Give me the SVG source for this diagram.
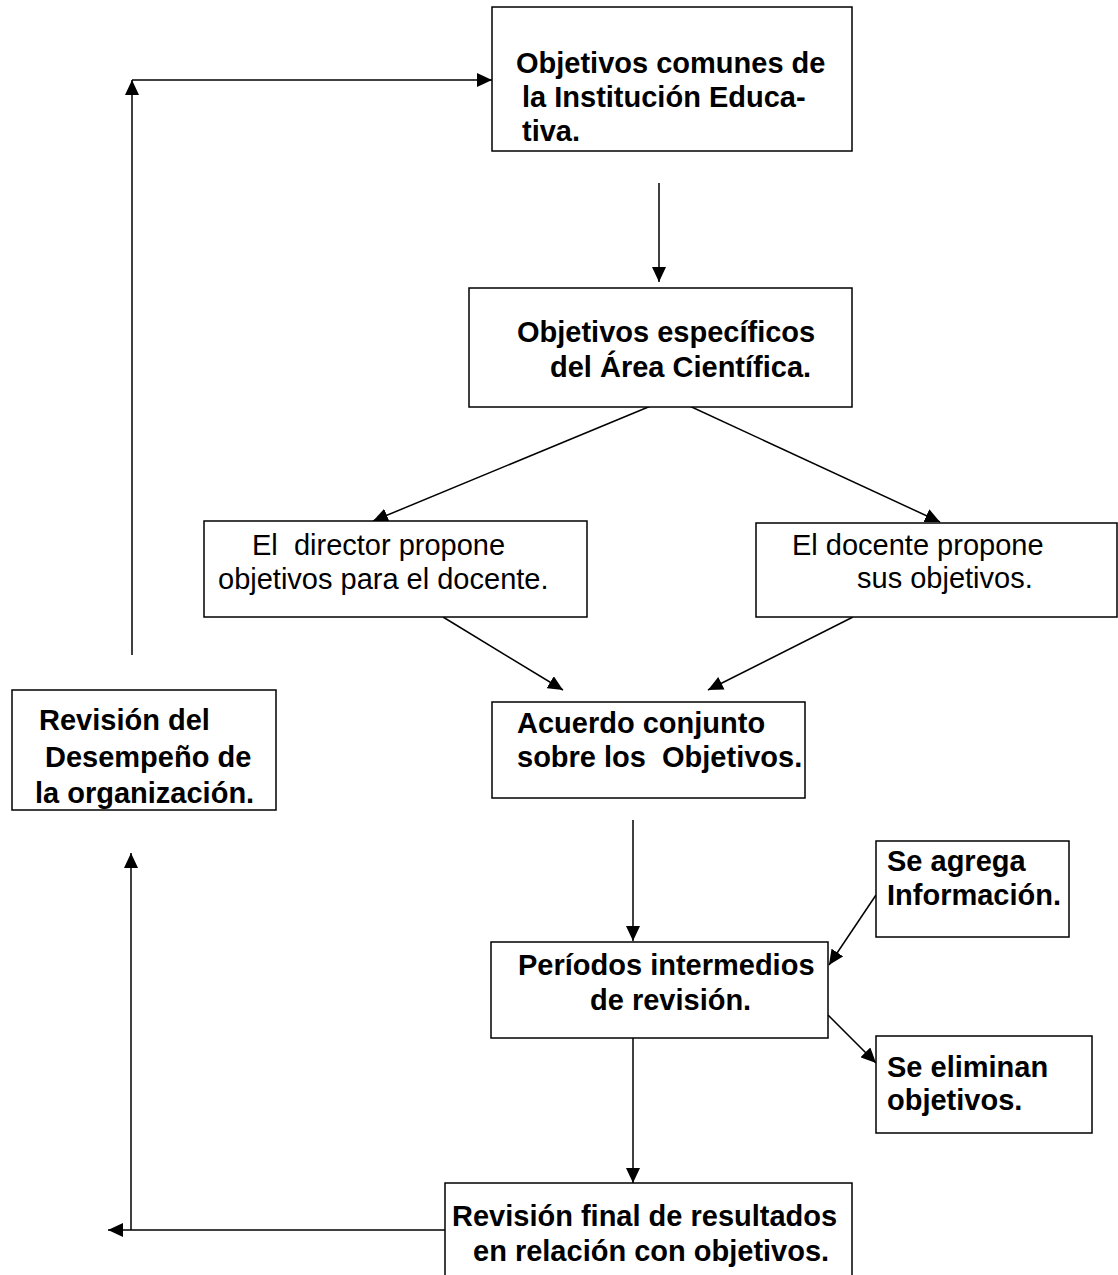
<svg xmlns="http://www.w3.org/2000/svg" width="1118" height="1275" viewBox="0 0 1118 1275">
<style>
.box{fill:#fff;stroke:#000;stroke-width:1.5}
.b{font-family:"Liberation Sans",Arial,sans-serif;font-weight:bold;font-size:29px;fill:#000;white-space:pre}
.r{font-family:"Liberation Sans",Arial,sans-serif;font-size:29px;fill:#000;white-space:pre}
.c{stroke:#000;stroke-width:1.5;fill:none;marker-end:url(#ah)}
</style>
<defs>
<marker id="ah" markerUnits="userSpaceOnUse" markerWidth="16" markerHeight="14" refX="15" refY="7" orient="auto">
<path d="M0,0 L15,7 L0,14 z" fill="#000"/>
</marker>
</defs>
<rect width="1118" height="1275" fill="#fff"/>
<g id="connectors">
<line class="c" x1="659" y1="183" x2="659" y2="282"/>
<line class="c" x1="658" y1="403" x2="373" y2="521"/>
<line class="c" x1="683" y1="403" x2="940" y2="522"/>
<line class="c" x1="443" y1="617" x2="563" y2="690"/>
<line class="c" x1="853" y1="617" x2="708" y2="690"/>
<line class="c" x1="633" y1="820" x2="633" y2="941"/>
<line class="c" x1="876" y1="895" x2="829" y2="965"/>
<line class="c" x1="828" y1="1015" x2="876" y2="1063"/>
<line class="c" x1="633" y1="1038" x2="633" y2="1183"/>
<line class="c" x1="445" y1="1230" x2="108" y2="1230"/>
<line class="c" x1="131" y1="1230" x2="131" y2="853"/>
<line class="c" x1="132" y1="655" x2="132" y2="80"/>
<line class="c" x1="132" y1="80" x2="492" y2="80"/>
</g>
<g id="objetivos-comunes">
<rect class="box" x="492" y="7" width="360" height="144"/>
<text class="b" x="516" y="73">Objetivos comunes de</text>
<text class="b" x="522" y="107">la Institución Educa-</text>
<text class="b" x="522" y="141">tiva.</text>
</g>
<g id="objetivos-especificos">
<rect class="box" x="469" y="288" width="383" height="119"/>
<text class="b" x="517" y="342">Objetivos específicos</text>
<text class="b" x="550" y="377">del Área Científica.</text>
</g>
<g id="director">
<rect class="box" x="204" y="521" width="383" height="96"/>
<text class="r" x="252" y="555" xml:space="preserve">El  director propone</text>
<text class="r" x="218" y="589">objetivos para el docente.</text>
</g>
<g id="docente">
<rect class="box" x="756" y="523" width="361" height="94"/>
<text class="r" x="792" y="555">El docente propone</text>
<text class="r" x="857" y="588">sus objetivos.</text>
</g>
<g id="acuerdo">
<rect class="box" x="492" y="702" width="313" height="96"/>
<text class="b" x="517" y="733">Acuerdo conjunto</text>
<text class="b" x="517" y="767" xml:space="preserve">sobre los  Objetivos.</text>
</g>
<g id="revision-desempeno">
<rect class="box" x="12" y="690" width="264" height="120"/>
<text class="b" x="39" y="730">Revisión del</text>
<text class="b" x="45" y="767">Desempeño de</text>
<text class="b" x="35" y="803">la organización.</text>
</g>
<g id="se-agrega">
<rect class="box" x="876" y="841" width="193" height="96"/>
<text class="b" x="887" y="871">Se agrega</text>
<text class="b" x="887" y="905">Información.</text>
</g>
<g id="periodos">
<rect class="box" x="491" y="942" width="337" height="96"/>
<text class="b" x="518" y="975">Períodos intermedios</text>
<text class="b" x="590" y="1010">de revisión.</text>
</g>
<g id="se-eliminan">
<rect class="box" x="876" y="1036" width="216" height="97"/>
<text class="b" x="887" y="1077">Se eliminan</text>
<text class="b" x="887" y="1110">objetivos.</text>
</g>
<g id="revision-final">
<rect class="box" x="445" y="1183" width="407" height="110"/>
<text class="b" x="452" y="1226">Revisión final de resultados</text>
<text class="b" x="473" y="1261">en relación con objetivos.</text>
</g>
</svg>
